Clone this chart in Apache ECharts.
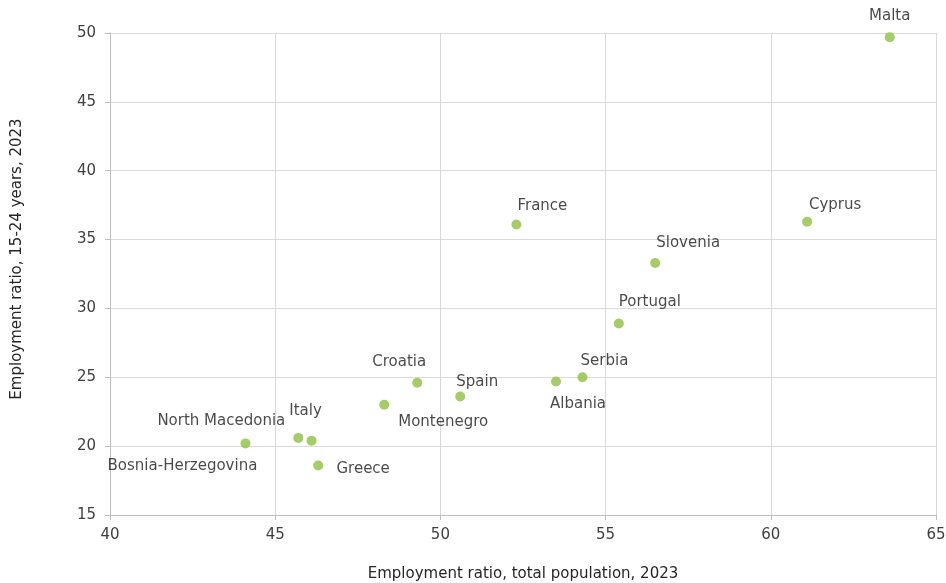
<!DOCTYPE html>
<html><head><meta charset="utf-8">
<script src="https://cdn.jsdelivr.net/npm/echarts@6/dist/echarts.min.js"></script>
<style>html,body{margin:0;padding:0;background:#fff}#c{width:946px;height:583px}</style>
</head><body><div id="c"></div>
<script>
const countries = ["Malta","Cyprus","France","Slovenia","Portugal","Serbia","Albania","Spain","Croatia","Montenegro","North Macedonia","Italy","Bosnia-Herzegovina","Greece"];
const totalRatio = [63.6,61.1,52.3,56.5,55.4,54.3,53.5,50.6,49.3,48.3,45.7,46.1,44.1,46.3];
const youthRatio = [49.7,36.3,36.1,33.3,28.9,25.0,24.7,23.6,24.6,23.0,20.6,20.4,20.2,18.6];
const labelOffsets = [[0,-21],[28,-17],[26,-18],[33,-20],[31,-21],[22,-16],[22,23],[17,-14],[-18,-21],[59,17],[-77,-17],[-6,-30],[-63,23],[45,4]];
const xTicks = [40,45,50,55,60,65];
const yTicks = [15,20,25,30,35,40,45,50];

const FONT = "'DejaVu Sans', sans-serif";
const data = countries.map((n,i)=>({
  name:n, value:[totalRatio[i], youthRatio[i]],
  label:{offset:labelOffsets[i]}
}));
const chart = echarts.init(document.getElementById('c'));
chart.setOption({
  animation:false,
  grid:{left:110,right:10,top:33,bottom:68,containLabel:false,outerBoundsMode:'none'},
  xAxis:{type:'value',min:xTicks[0],max:xTicks[xTicks.length-1],interval:5,
    name:'Employment ratio, total population, 2023',nameLocation:'middle',nameGap:52,
    nameTextStyle:{color:'#262626',fontSize:15,fontFamily:FONT},
    axisLine:{show:true,lineStyle:{color:'#bfbfbf'}},
    axisTick:{show:true,length:5,lineStyle:{color:'#bfbfbf'}},
    axisLabel:{color:'#404040',fontSize:15,fontFamily:FONT,margin:13},
    splitLine:{show:true,lineStyle:{color:'#d9d9d9'}}},
  yAxis:{type:'value',min:yTicks[0],max:yTicks[yTicks.length-1],interval:5,
    name:'Employment ratio, 15-24 years, 2023',nameLocation:'middle',nameGap:85,
    nameTextStyle:{color:'#262626',fontSize:15,fontFamily:FONT,padding:[0,0,0,30]},
    axisLine:{show:true,lineStyle:{color:'#bfbfbf'}},
    axisTick:{show:true,length:5,lineStyle:{color:'#bfbfbf'}},
    axisLabel:{color:'#404040',fontSize:15,fontFamily:FONT,margin:14},
    splitLine:{show:true,lineStyle:{color:'#d9d9d9'}}},
  series:[{type:'scatter',symbolSize:10,itemStyle:{color:'#8dc03f'},
    data:data,
    label:{show:true,position:'inside',formatter:p=>p.name,color:'#1a1a1a',fontSize:15,fontFamily:FONT}
  }]
});
</script></body></html>
